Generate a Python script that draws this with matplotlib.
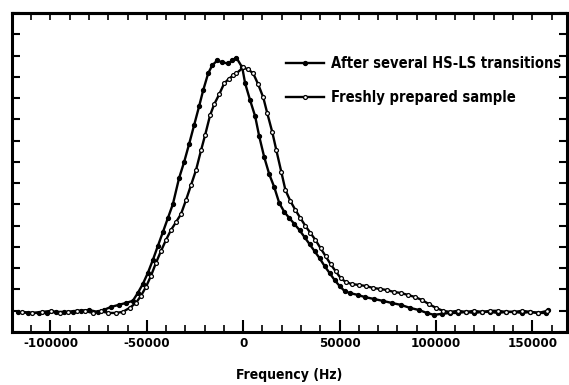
import matplotlib
matplotlib.use("Agg")
import matplotlib.pyplot as plt
from matplotlib.ticker import MultipleLocator, NullFormatter

plt.rcParams["font.family"] = ["DejaVu Sans"]
plt.rcParams["font.weight"] = "bold"
plt.rcParams["font.stretch"] = "condensed"

# after several HS-LS transitions (filled dots)
freq_cycled = [
    -116700, -111500, -106200, -101600, -97400, -93200, -88500, -84400, -80200, -75500,
    -72400, -68700, -64600, -60900, -57300, -54700, -52100, -49500, -46900, -44300,
    -41700, -39100, -36500, -33300, -30700, -28100, -25500, -22900, -20800, -18200,
    -16100, -13500, -10900, -7800, -5700, -3600, -500, 1000, 3600, 6200,
    8300, 10900, 13500, 16100, 18700, 21400, 24000, 26600, 29200, 31800,
    34400, 37000, 39600, 42200, 44800, 47400, 50000, 52600, 55200, 59400,
    63000, 67700, 72400, 77100, 81800, 86500, 91100, 95300, 99000, 103100,
    107300, 111500, 115600, 119800, 124000, 128100, 132300, 136400, 140600, 144800,
    149000, 153100, 157300, 158300,
]
amp_cycled = [
    0.94, 0.89, 0.89, 0.89, 0.94, 0.94, 0.94, 0.99, 1.03, 0.94,
    1.03, 1.17, 1.27, 1.36, 1.46, 1.83, 2.25, 2.77, 3.38, 4.04,
    4.69, 5.35, 6.01, 7.23, 7.98, 8.83, 9.72, 10.61, 11.36, 12.16,
    12.54, 12.77, 12.68, 12.63, 12.77, 12.91, 12.44, 11.69, 10.89, 10.14,
    9.20, 8.22, 7.42, 6.81, 6.06, 5.63, 5.35, 5.07, 4.79, 4.46,
    4.13, 3.80, 3.47, 3.10, 2.77, 2.44, 2.16, 1.92, 1.83, 1.74,
    1.64, 1.55, 1.46, 1.36, 1.27, 1.13, 1.03, 0.89, 0.80, 0.85,
    0.89, 0.89, 0.94, 0.89, 0.94, 0.94, 0.89, 0.94, 0.94, 0.89,
    0.94, 0.89, 0.89, 1.03,
]

# freshly prepared sample (open circles)
freq_fresh = [
    -114600, -109400, -104200, -99500, -95300, -91100, -86500, -82300, -78100, -74000,
    -70300, -66100, -62500, -58900, -55700, -53100, -50500, -47900, -45300, -42700,
    -40100, -37500, -34900, -32300, -29700, -27100, -24500, -21900, -19800, -17200,
    -15100, -12500, -9900, -7300, -5200, -3600, 0, 2600, 5200, 7800,
    10400, 12500, 15100, 17200, 19800, 21900, 24500, 27100, 29700, 32300,
    34900, 37500, 40100, 42700, 45300, 47900, 50500, 53100, 56200, 59900,
    63500, 67200, 70800, 74500, 78100, 81800, 85400, 89100, 92700, 96300,
    100000, 103600, 107300, 111500, 115600, 119800, 124000, 128100, 132300, 136400,
    140600, 144800, 149000, 153100, 157800,
]
amp_fresh = [
    0.94, 0.89, 0.94, 0.99, 0.89, 0.94, 0.99, 0.99, 0.89, 0.99,
    0.89, 0.89, 0.94, 1.13, 1.36, 1.69, 2.11, 2.63, 3.24, 3.80,
    4.32, 4.79, 5.16, 5.54, 6.20, 6.90, 7.61, 8.54, 9.25, 10.19,
    10.70, 11.17, 11.69, 11.92, 12.07, 12.16, 12.44, 12.35, 12.16, 11.64,
    11.03, 10.28, 9.39, 8.54, 7.51, 6.67, 6.15, 5.73, 5.35, 4.98,
    4.65, 4.32, 3.94, 3.57, 3.19, 2.86, 2.54, 2.35, 2.25, 2.21,
    2.16, 2.07, 2.02, 1.97, 1.88, 1.83, 1.74, 1.64, 1.50, 1.31,
    1.13, 0.99, 0.94, 0.99, 0.94, 0.99, 0.94, 0.99, 0.99, 0.94,
    0.94, 0.99, 0.94, 0.89, 0.99,
]

label_cycled = "After several HS-LS transitions"
label_fresh = "Freshly prepared sample"
xticks = [-100000, -50000, 0, 50000, 100000, 150000]

fig = plt.figure(figsize=(5.69, 3.85), dpi=100)
ax = fig.add_axes([0.021, 0.138, 0.9755, 0.828])

ax.plot(freq_cycled, amp_cycled, color="black", lw=1.7, marker="o", ms=2.8,
        mfc="black", mec="black", label=label_cycled)
ax.plot(freq_fresh, amp_fresh, color="black", lw=1.7, marker="o", ms=2.8,
        mfc="white", mec="black", mew=0.9, label=label_fresh)

ax.set_xlim(-120000, 168000)
ax.set_ylim(0, 15)
ax.set_xticks(xticks)
ax.set_xticklabels([str(t) for t in xticks], fontsize=9.5, fontweight="bold")
ax.xaxis.set_minor_locator(MultipleLocator(10000))
ax.yaxis.set_major_locator(MultipleLocator(1))
ax.yaxis.set_major_formatter(NullFormatter())

ax.tick_params(axis="x", which="major", direction="in", length=9, width=1.5,
               top=False, pad=4)
ax.tick_params(axis="x", which="minor", direction="in", length=5, width=1.2,
               top=False)
ax.tick_params(axis="y", which="major", direction="in", length=6, width=1.5,
               left=True, right=True)

top = ax.secondary_xaxis("top")
top.xaxis.set_major_locator(MultipleLocator(10000))
top.xaxis.set_major_formatter(NullFormatter())
top.tick_params(direction="in", length=5, width=1.2)

for side in ["left", "right", "top", "bottom"]:
    ax.spines[side].set_linewidth(2.2)
top.spines["top"].set_linewidth(2.2)

ax.set_xlabel("Frequency (Hz)", fontsize=10, fontweight="bold", labelpad=13)

ax.legend(loc="upper left", bbox_to_anchor=(0.47, 0.905), frameon=False,
          handlelength=2.6, handletextpad=0.5, labelspacing=1.25,
          prop={"weight": "bold", "size": 10.5, "stretch": "condensed"})

fig.savefig("out.png", dpi=100)
